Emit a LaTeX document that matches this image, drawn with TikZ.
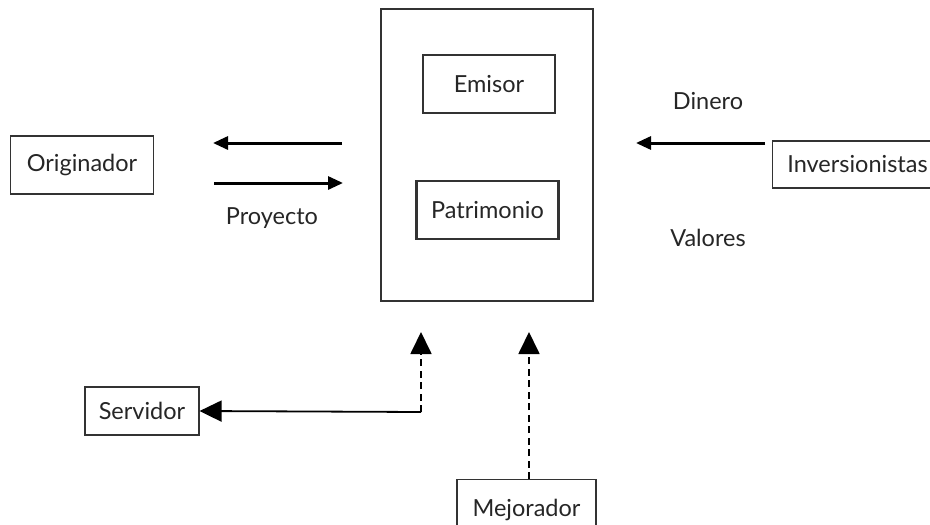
\documentclass[tikz,border=0pt]{standalone}
\usepackage{fontspec}
\setmainfont{Lato}
\usetikzlibrary{arrows.meta}
\begin{document}
\begin{tikzpicture}[x=1pt,y=-1pt,
  every node/.style={font=\fontsize{23.5}{27}\selectfont, text=black!85},
  box/.style={draw=black!80, line width=1.1pt, inner sep=0pt},
  lbl/.style={inner sep=0pt},
  harrow/.style={line width=3pt, -{Triangle[length=15pt,width=13pt]}},
  sarrow/.style={line width=1.8pt, -{Triangle[length=22pt,width=21pt]}},
  varrow/.style={line width=1.8pt, dash pattern=on 7pt off 4.5pt, -{Triangle[length=22pt,width=21pt]}}]
\useasboundingbox (0,0) rectangle (930,525);
% boxes
\node[box, minimum width=143pt, minimum height=58pt] (orig) at (82,165) {Originador};
\node[box, minimum width=212pt, minimum height=292pt] (main) at (487,155) {};
\node[box, minimum width=132pt, minimum height=58pt] (emisor) at (489,84) {Emisor};
\node[box, line width=2.4pt, minimum width=142pt, minimum height=58pt] (patr) at (487.5,210) {Patrimonio};
\node[box, minimum width=170pt, minimum height=47pt, anchor=west] (inv) at (772,164.5) {Inversionistas};
\node[box, minimum width=114pt, minimum height=48pt] (serv) at (142,411) {Servidor};
\node[box, minimum width=139pt, minimum height=60pt, anchor=north] (mej) at (526.5,479) {Mejorador};
% labels
\node[lbl] (proy) at (272,218) {Proyecto};
\node[lbl] (din) at (708,101) {Dinero};
\node[lbl] (val) at (708,238) {Valores};
% connector end points
\coordinate (a1s) at (342,143);
\coordinate (a1e) at (213,143);
\coordinate (a2s) at (214,183);
\coordinate (a2e) at (343,183);
\coordinate (a3e) at (636,143);
\coordinate (corner) at (421,412);
\coordinate (st) at (421,332);
\coordinate (mt) at (529,332);
% arrows
\draw[harrow] (a1s) -- (a1e);
\draw[harrow] (a2s) -- (a2e);
\draw[harrow] (inv.west |- a3e) ++(-7,0) -- (a3e);
\draw[varrow] (corner) -- (st);
\draw[sarrow] (corner) -- (serv.east);
\draw[varrow] (mej.north -| mt) -- (mt);
\end{tikzpicture}
\end{document}
